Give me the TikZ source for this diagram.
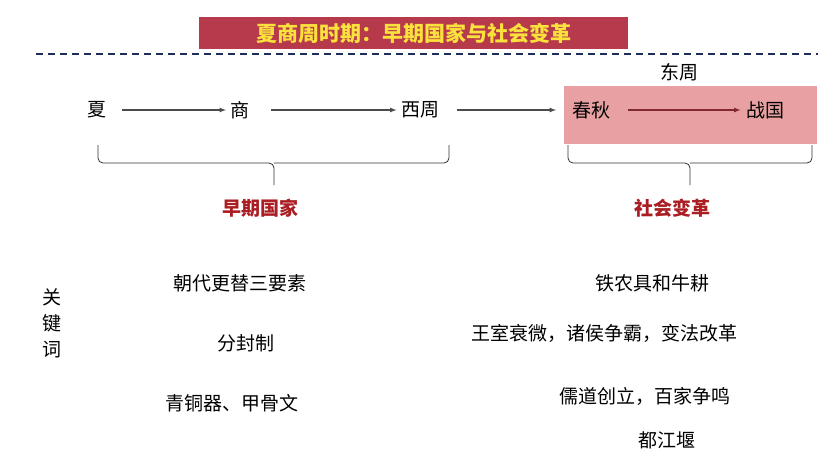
\documentclass[tikz,border=0pt]{standalone}
\usepackage{fontspec}
\setmainfont{Noto Sans CJK SC}
\begin{document}
\begin{tikzpicture}[x=1pt,y=-1pt,
 t/.style={font=\fontsize{19}{22}\selectfont, text=black},
 r/.style={font=\fontsize{19}{22}\selectfont\bfseries, text={rgb,255:red,170;green,30;blue,35}},
 arr/.style={-latex, line width=1.2pt, draw=black!70},
 br/.style={draw=black!80, line width=0.8pt, rounded corners=5pt}]
\useasboundingbox (0,0) rectangle (835,463);
\fill[white] (0,0) rectangle (835,463);
\node[fill={rgb,255:red,183;green,58;blue,76}, minimum width=429pt, minimum height=32pt, text={rgb,255:red,250;green,225;blue,60}, font=\fontsize{21}{24}\selectfont\bfseries] (title) at (413.5,33) {夏商周时期：早期国家与社会变革};
\coordinate (d1) at (36,54); \coordinate (d2) at (818,54);
\draw[line width=1.6pt, draw={rgb,255:red,30;green,45;blue,90}, dash pattern=on 7pt off 5pt] (d1) -- (d2);
\node[fill={rgb,255:red,232;green,160;blue,162}, minimum width=253pt, minimum height=58pt, inner sep=0] (box) at (690.5,115) {};
\node[t] (dz) at (679,72) {东周};
\node[t] (xia) at (97,110) {夏};
\node[t] (shang) at (240,110) {商};
\node[t] (xz) at (420,110) {西周};
\node[t] (cq) at (591,110) {春秋};
\node[t] (zg) at (765,110) {战国};
\coordinate (bw) at (556,110);
\draw[arr, shorten <=12pt, shorten >=1pt] (xia) -- (shang);
\draw[arr, shorten <=18pt, shorten >=1pt] (shang) -- (xz);
\draw[arr, shorten <=14pt] (xz.east) -- (bw);
\draw[arr, draw={rgb,255:red,130;green,40;blue,50}, shorten <=14pt, shorten >=2pt] (cq) -- (zg);
% braces
\coordinate (b1) at (98,145); \coordinate (b2) at (449,145); \coordinate (b3) at (274,185);
\draw[br] (b1) -- (98,163) -- (274,163) -- (b3);
\draw[br] (b2) -- (449,163) -- (274,163);
\coordinate (c1) at (568,145); \coordinate (c2) at (812,145); \coordinate (c3) at (690,185);
\draw[br] (c1) -- (568,163) -- (690,163) -- (c3);
\draw[br] (c2) -- (812,163) -- (690,163);
\node[r] (zq) at (260,208) {早期国家};
\node[r] (sh) at (672,208) {社会变革};
\node[t, align=center, font=\fontsize{19}{26}\selectfont] (gjc) at (52,323) {关\\键\\词};
\node[t] (l1) at (240,283) {朝代更替三要素};
\node[t] (l2) at (246,343) {分封制};
\node[t] (l3) at (232,403) {青铜器、甲骨文};
\node[t] (r1) at (652,283) {铁农具和牛耕};
\node[t] (r2) at (604,333) {王室衰微，诸侯争霸，变法改革};
\node[t] (r3) at (645,396) {儒道创立，百家争鸣};
\node[t] (r4) at (667,440) {都江堰};
\end{tikzpicture}
\end{document}
